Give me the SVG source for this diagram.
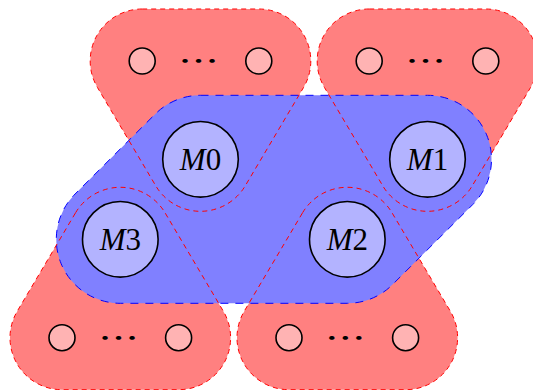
<svg xmlns="http://www.w3.org/2000/svg" width="533" height="390" viewBox="0 0 533 390">
<style>
.rfill{fill:#FF8080;stroke:none}
.rline{fill:none;stroke:#FF0000;stroke-width:1;stroke-dasharray:5 4}
.bfill{fill:#8080FF;stroke:none}
.bline{fill:none;stroke:#0000FF;stroke-width:1;stroke-dasharray:8 7}
.sm{fill:#FFB3B3;stroke:#000;stroke-width:1.6}
.big{fill:#B3B3FF;stroke:#000;stroke-width:1.6}
.lbl{font-family:"Liberation Serif",serif;font-size:31px;text-anchor:middle;fill:#000}
.dots{font-family:"Noto Sans CJK JP",sans-serif;font-size:29px;text-anchor:middle;fill:#000}
</style>
<defs>
<path id="hTL" d="M 142.2 9 L 258.8 9 A 52 52 0 0 1 303.53 87.53 L 245.23 185.83 A 52 52 0 0 1 155.77 185.83 L 97.47 87.53 A 52 52 0 0 1 142.2 9 Z"/>
<path id="hTR" d="M 369.2 9 L 485.8 9 A 52 52 0 0 1 530.53 87.53 L 472.23 185.83 A 52 52 0 0 1 382.77 185.83 L 324.47 87.53 A 52 52 0 0 1 369.2 9 Z"/>
<path id="hBL" d="M 75.57 212.77 A 52 52 0 0 1 165.03 212.77 L 223.33 311.17 A 52 52 0 0 1 178.6 389.7 L 62 389.7 A 52 52 0 0 1 17.27 311.17 Z"/>
<path id="hBR" d="M 302.57 212.77 A 52 52 0 0 1 392.03 212.77 L 450.33 311.17 A 52 52 0 0 1 405.6 389.7 L 289 389.7 A 52 52 0 0 1 244.27 311.17 Z"/>
<path id="hB" d="M 200.5 95.3 L 427.5 95.3 A 64 64 0 0 1 472.7 204.6 L 392.5 284.6 A 64 64 0 0 1 347.3 303.3 L 120.3 303.3 A 64 64 0 0 1 75.1 194 L 155.3 114 A 64 64 0 0 1 200.5 95.3 Z"/>
</defs>
<g id="hull-fills">
<use href="#hTL" class="rfill"/>
<use href="#hTR" class="rfill"/>
<use href="#hBL" class="rfill"/>
<use href="#hBR" class="rfill"/>
<use href="#hB" class="bfill"/>
<use href="#hB" class="bline"/>
</g>
<g id="hull-outlines">
<use href="#hTL" class="rline"/>
<use href="#hTR" class="rline"/>
<use href="#hBL" class="rline"/>
<use href="#hBR" class="rline"/>
</g>
<g id="connectors"></g>
<g id="group-top-left">
<circle class="sm" cx="142.2" cy="61" r="13"/>
<text class="dots" transform="translate(198.5 72) scale(1.4 1)">⋯</text>
<circle class="sm" cx="258.8" cy="61" r="13"/>
</g>
<g id="group-top-right">
<circle class="sm" cx="369.2" cy="61" r="13"/>
<text class="dots" transform="translate(425.5 72) scale(1.4 1)">⋯</text>
<circle class="sm" cx="485.8" cy="61" r="13"/>
</g>
<g id="group-bottom-left">
<circle class="sm" cx="62" cy="337.7" r="13"/>
<text class="dots" transform="translate(118.5 348.7) scale(1.4 1)">⋯</text>
<circle class="sm" cx="178.6" cy="337.7" r="13"/>
</g>
<g id="group-bottom-right">
<circle class="sm" cx="289" cy="337.7" r="13"/>
<text class="dots" transform="translate(345.2 348.7) scale(1.4 1)">⋯</text>
<circle class="sm" cx="405.6" cy="337.7" r="13"/>
</g>
<g id="M0"><circle class="big" cx="200.5" cy="159.3" r="37.8"/><text class="lbl" x="200.5" y="169.8"><tspan font-style="italic">M</tspan>0</text></g>
<g id="M1"><circle class="big" cx="427.5" cy="159.3" r="37.8"/><text class="lbl" x="427.5" y="169.8"><tspan font-style="italic">M</tspan>1</text></g>
<g id="M2"><circle class="big" cx="347.3" cy="239.3" r="37.8"/><text class="lbl" x="347.3" y="249.8"><tspan font-style="italic">M</tspan>2</text></g>
<g id="M3"><circle class="big" cx="120.3" cy="239.3" r="37.8"/><text class="lbl" x="120.3" y="249.8"><tspan font-style="italic">M</tspan>3</text></g>
</svg>
